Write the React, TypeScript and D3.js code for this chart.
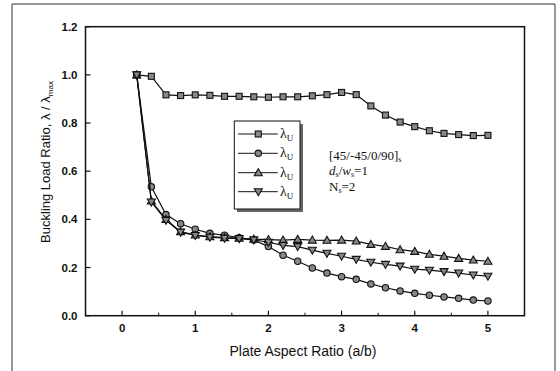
import React from "react";
import * as d3 from "d3";

const xs = [0.2,0.4,0.6,0.8,1.0,1.2,1.4,1.6,1.8,2.0,2.2,2.4,2.6,2.8,3.0,3.2,3.4,3.6,3.8,4.0,4.2,4.4,4.6,4.8,5.0];
const sSquare = [1.0,0.994,0.917,0.914,0.917,0.915,0.911,0.911,0.909,0.907,0.909,0.909,0.913,0.918,0.927,0.918,0.871,0.833,0.804,0.785,0.768,0.757,0.752,0.748,0.749];
const sCircle = [1.0,0.535,0.42,0.382,0.359,0.342,0.334,0.324,0.314,0.287,0.251,0.226,0.198,0.177,0.162,0.151,0.132,0.116,0.103,0.093,0.085,0.078,0.072,0.065,0.061];
const sUp = [1.0,0.476,0.4,0.349,0.335,0.328,0.324,0.322,0.318,0.316,0.314,0.317,0.314,0.313,0.314,0.31,0.296,0.288,0.274,0.267,0.255,0.247,0.238,0.231,0.226];
const sDown = [1.0,0.472,0.396,0.347,0.333,0.326,0.322,0.32,0.315,0.305,0.292,0.287,0.272,0.259,0.247,0.234,0.222,0.213,0.206,0.193,0.189,0.183,0.177,0.169,0.164];
const xTicks = [0,1,2,3,4,5];
const xMinor = [-0.5,0.5,1.5,2.5,3.5,4.5];
const yTicks = [0,0.2,0.4,0.6,0.8,1.0,1.2];
const series = [
  { name: "square", values: sSquare },
  { name: "circle", values: sCircle },
  { name: "up", values: sUp },
  { name: "down", values: sDown },
];

const L = 85.5, R = 524.5, T = 26.7, B = 315.7;
const x = d3.scaleLinear().domain([-0.5, 5.5]).range([L, R]);
const y = d3.scaleLinear().domain([0, 1.2]).range([B, T]);
const sans = "'Liberation Sans', Arial, sans-serif";
const serif = "'Liberation Serif', 'Times New Roman', serif";

function Marker({ type, cx, cy }: { type: string; cx: number; cy: number }) {
  const st = { fill: "#888", stroke: "#111", strokeWidth: 1.1 };
  if (type === "square") return <rect x={cx - 3} y={cy - 3} width={6} height={6} {...st} />;
  if (type === "circle") return <circle cx={cx} cy={cy} r={3.2} {...st} />;
  if (type === "up") return <path d={`M${cx},${cy - 4}L${cx + 4},${cy + 3}L${cx - 4},${cy + 3}Z`} {...st} />;
  return <path d={`M${cx},${cy + 4}L${cx + 4},${cy - 3}L${cx - 4},${cy - 3}Z`} {...st} />;
}

export default function App() {
  const line = d3.line<number>().x((_, i) => x(xs[i])).y((v) => y(v));
  const legY = [134, 153.3, 172.7, 191.7];
  return (
    <svg width={560} height={371} style={{ position: "absolute", left: 0, top: 0, background: "#fff" }}>
      <rect x={0} y={0} width={560} height={371} fill="#fff" />
      <path d="M12,371V4H555V371" fill="none" stroke="#333" strokeWidth={1} />
      <rect x={L} y={T} width={R - L} height={B - T} fill="none" stroke="#111" strokeWidth={1.5} />
      {yTicks.map((t) => (
        <g key={"y" + t}>
          <line x1={L} x2={L + 5} y1={y(t)} y2={y(t)} stroke="#111" strokeWidth={1.2} />
          <text x={L - 8} y={y(t) + 4} textAnchor="end" fontFamily={sans} fontSize={11.5} fontWeight="bold" fill="#111">{t.toFixed(1)}</text>
        </g>
      ))}
      {xTicks.map((t) => (
        <g key={"x" + t}>
          <line x1={x(t)} x2={x(t)} y1={B} y2={B - 5} stroke="#111" strokeWidth={1.2} />
          <text x={x(t)} y={B + 16} textAnchor="middle" fontFamily={sans} fontSize={11.5} fontWeight="bold" fill="#111">{t}</text>
        </g>
      ))}
      {xMinor.map((t) => (
        <line key={"m" + t} x1={x(t)} x2={x(t)} y1={B} y2={B - 3} stroke="#111" strokeWidth={1} />
      ))}
      <text x={303} y={356} textAnchor="middle" fontFamily={sans} fontSize={14} fill="#111">Plate Aspect Ratio (a/b)</text>
      <text transform="translate(50,162) rotate(-90)" textAnchor="middle" fontFamily={sans} fontSize={13} fill="#111">
        Buckling Load Ratio, λ / λ<tspan fontSize={8} dy={3}>max</tspan>
      </text>
      {series.map((s) => (
        <g key={s.name}>
          <path d={line(s.values) || ""} fill="none" stroke="#111" strokeWidth={1.2} />
          {s.values.map((v, i) => (
            <Marker key={i} type={s.name} cx={x(xs[i])} cy={y(v)} />
          ))}
        </g>
      ))}
      <rect x={237} y={124} width={66} height={88} fill="#666" />
      <rect x={234.3} y={121} width={65.7} height={88} fill="#fff" stroke="#111" strokeWidth={1} />
      {series.map((s, i) => (
        <g key={"l" + s.name}>
          <line x1={238} x2={277.7} y1={legY[i]} y2={legY[i]} stroke="#111" strokeWidth={1} />
          <Marker type={s.name} cx={258.3} cy={legY[i]} />
          <text x={280} y={legY[i] + 4} fontFamily={serif} fontSize={14} fill="#111">λ<tspan fontSize={9} dy={3}>U</tspan></text>
        </g>
      ))}
      <text x={329} y={160} fontFamily={serif} fontSize={13} fill="#111">[45/-45/0/90]<tspan fontSize={8} dy={2}>s</tspan></text>
      <text x={329} y={175} fontFamily={serif} fontSize={13} fill="#111">
        <tspan fontStyle="italic">d</tspan><tspan fontSize={8} dy={2}>s</tspan><tspan dy={-2}>/</tspan><tspan fontStyle="italic">w</tspan><tspan fontSize={8} dy={2}>s</tspan><tspan dy={-2}>=1</tspan>
      </text>
      <text x={329} y={191} fontFamily={serif} fontSize={13} fill="#111">N<tspan fontSize={8} dy={2}>s</tspan><tspan dy={-2}>=2</tspan></text>
    </svg>
  );
}
